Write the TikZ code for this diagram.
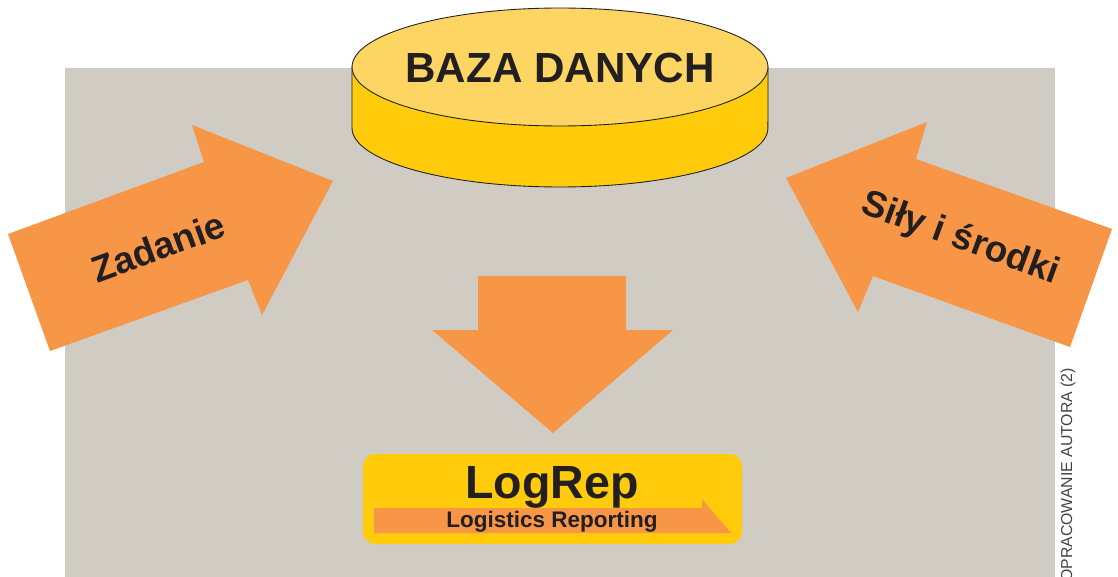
\documentclass[tikz,border=0pt]{standalone}
\usepackage{fontspec}
\setmainfont{Liberation Sans}
\usepackage{tikz}

\definecolor{tlo}{RGB}{208,204,196}
\definecolor{pomarancz}{RGB}{247,150,70}
\definecolor{bazagora}{RGB}{253,213,99}
\definecolor{bazabok}{RGB}{255,203,11}
\definecolor{tekst}{RGB}{35,31,32}

\tikzset{
    strzala/.style={fill=pomarancz, draw=none},
    napis/.style={text=tekst, font=\bfseries\fontsize{21}{21}\selectfont},
}

\begin{document}
\begin{tikzpicture}[x=0.02cm, y=-0.02cm]
            \useasboundingbox (0,0) rectangle (1118,577);
            \fill[tlo] (65,68) rectangle (1055,577);

            \filldraw[fill=bazabok, draw=tekst, line width=0.5pt] (352,67) -- (352,128)
                arc[start angle=180, end angle=360, x radius=4.16cm, y radius=1.18cm] -- (768,67) -- cycle;
            \filldraw[fill=bazagora, draw=tekst, line width=0.5pt] (560,67) ellipse[x radius=4.16cm, y radius=1.18cm];
            \node[anchor=base, text=tekst, font=\bfseries\fontsize{24}{24}\selectfont] (baza) at (560,83) {BAZA DANYCH};

            \fill[strzala] (8,234) -- (204,162) -- (192,125) -- (333,181) -- (262,315) -- (248,280) -- (50,351) -- cycle;
            \node[napis, rotate=20] (zadanie) at (158,247) {Zadanie};

            \fill[strzala] (786,178) -- (927,122) -- (916,159) -- (1112,229) -- (1070,347) -- (873,276) -- (858,312) -- cycle;
            \node[napis, rotate=-20] (sily) at (960,239) {Siły i środki};

            \fill[strzala] (478,276) -- (626,276) -- (626,330) -- (673,330) -- (553,433) -- (432,330) -- (478,330) -- cycle;

            \fill[bazabok, rounded corners=0.24cm] (363,454) rectangle (742,544);
            \fill[pomarancz] (374,508) -- (702,508) -- (702,499) -- (731,533) -- (374,533) -- cycle;
            \node[anchor=base, text=tekst, font=\bfseries\fontsize{26.5}{27}\selectfont] (logrep) at (552,498) {LogRep};
            \node[anchor=base, text=tekst, font=\bfseries\fontsize{12.8}{13}\selectfont] (logsub) at (552,527) {Logistics Reporting};

            \node[anchor=base east, rotate=90, text=tekst!85, font=\fontsize{9}{9}\selectfont] (zrodlo) at (1072,362) {OPRACOWANIE AUTORA (2)};
        \end{tikzpicture}
\end{document}
